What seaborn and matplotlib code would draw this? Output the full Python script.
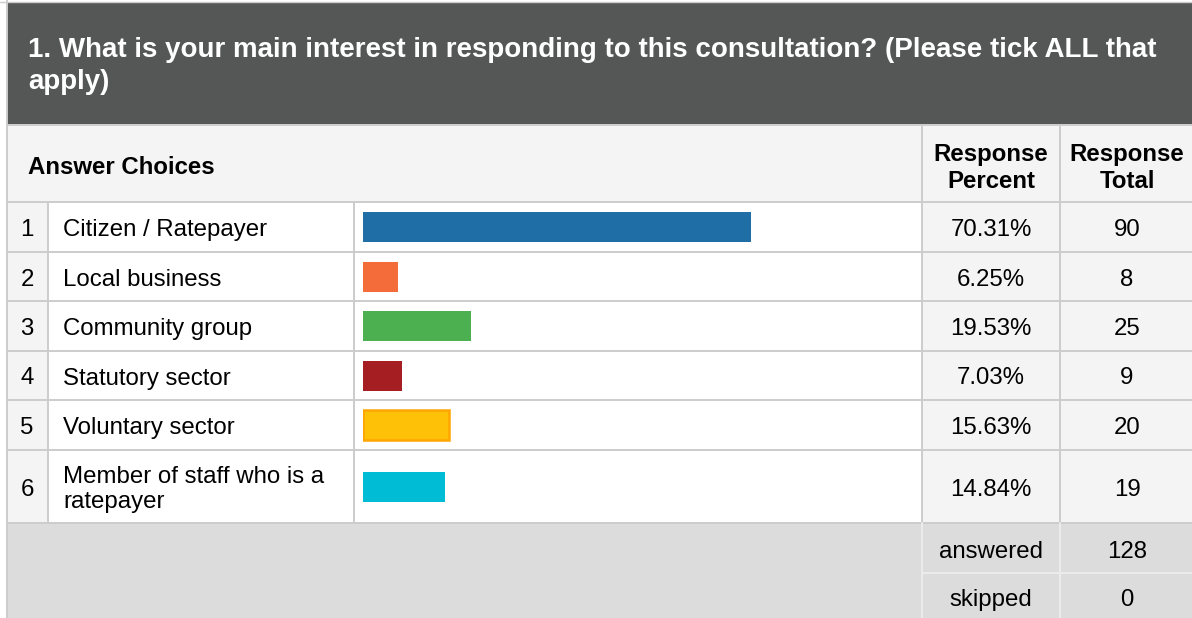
import matplotlib
matplotlib.use('Agg')
import matplotlib.pyplot as plt
import matplotlib.colors as mcolors
from matplotlib.patches import Rectangle
import pandas as pd
import seaborn as sns

# Survey data
question = ('1. What is your main interest in responding to this consultation? '
            '(Please tick ALL that\napply)')
choices = ['Citizen / Ratepayer', 'Local business', 'Community group',
           'Statutory sector', 'Voluntary sector',
           'Member of staff who is a\nratepayer']
percents = [70.31, 6.25, 19.53, 7.03, 15.63, 14.84]
totals = [90, 8, 25, 9, 20, 19]
bar_colors = ['#1f6ea5', '#f36c3a', '#4caf50', '#a51e22', '#ffc107', '#00bcd4']
answered = 128
skipped = 0

sns.set_style('white')
plt.rcParams['font.family'] = ['Liberation Sans', 'DejaVu Sans']
plt.rcParams['text.color'] = 'black'

# layout in pixels
W, H = 1192, 618
left = 7
col_x = [left, 48, 354, 922, 1060, W + 2]
row_y = [202, 252, 301, 351, 400, 450, 523]
row_c = [(a + b) / 2 for a, b in zip(row_y[:-1], row_y[1:])]
grid = '#cccccc'
light = '#f4f4f4'
fs = 17.3
dy = 3  # nudge text down to visual centre

fig = plt.figure(figsize=(W / 100, H / 100), dpi=100)
ax = fig.add_axes([0, 0, 1, 1])
ax.set_xlim(0, W)
ax.set_ylim(H, 0)
ax.axis('off')

# backgrounds
ax.add_patch(Rectangle((left, 3), W, 121, color='#555756', lw=0))
ax.add_patch(Rectangle((left, 124), W, 78, color=light, lw=0))
for i, c in enumerate([light, 'white', 'white', light, light]):
    ax.add_patch(Rectangle((col_x[i], row_y[0]), col_x[i + 1] - col_x[i],
                           row_y[-1] - row_y[0], color=c, lw=0))
ax.add_patch(Rectangle((left, row_y[-1]), W, H - row_y[-1], color='#dcdcdc', lw=0))

# grid lines
ax.plot([0, W], [2, 2], color=grid, lw=1)
ax.plot([left, left], [0, H], color=grid, lw=1.4)
ax.plot([left, W], [125, 125], color=grid, lw=1.4)
for y in row_y:
    ax.plot([left, W], [y, y], color=grid, lw=1.4)
for x in col_x[1:3]:
    ax.plot([x, x], [row_y[0], row_y[-1]], color=grid, lw=1.4)
for x in col_x[3:5]:
    ax.plot([x, x], [125, row_y[-1]], color=grid, lw=1.4)
    ax.plot([x, x], [row_y[-1], H], color='#ececec', lw=1.4)
ax.plot([col_x[3], W], [573, 573], color='#ececec', lw=1.4)

# title
ax.text(28, 66, question, color='white', fontsize=20, fontweight='bold',
        va='center', ha='left', linespacing=1.3)

# column headers
ax.text(28, 164 + dy, 'Answer Choices', fontsize=fs, fontweight='bold', va='center')
ax.text(991, 165 + dy, 'Response\nPercent', fontsize=fs, fontweight='bold',
        va='center', ha='center', linespacing=1.22)
ax.text(1127, 165 + dy, 'Response\nTotal', fontsize=fs, fontweight='bold',
        va='center', ha='center', linespacing=1.22)

# rows
for i, (name, p, t) in enumerate(zip(choices, percents, totals)):
    yc = row_c[i] + dy
    ax.text(27, yc, str(i + 1), fontsize=fs, va='center', ha='center')
    ax.text(63, yc, name, fontsize=fs, va='center', ha='left', linespacing=1.2)
    ax.text(991, yc, f'{p:.2f}%', fontsize=fs, va='center', ha='center')
    ax.text(1127, yc, str(t), fontsize=fs, va='center', ha='center')

ax.text(991, 549 + dy, 'answered', fontsize=fs, va='center', ha='center')
ax.text(1127, 549 + dy, str(answered), fontsize=fs, va='center', ha='center')
ax.text(991, 597 + dy, 'skipped', fontsize=fs, va='center', ha='center')
ax.text(1127, 597 + dy, str(skipped), fontsize=fs, va='center', ha='center')

# bars on their own axes: x in percent, y in pixel rows
bax = fig.add_axes([363 / W, 0, 552 / W, 1])
df = pd.DataFrame({'choice': choices, 'percent': percents, 'ypos': row_c})
sns.barplot(data=df, x='percent', y='ypos', hue='choice', palette=bar_colors,
            orient='h', native_scale=True, width=30 / 49.5, legend=False,
            errorbar=None, saturation=1, linewidth=0, ax=bax)
for patch in bax.patches:
    if mcolors.to_hex(patch.get_facecolor()) == '#ffc107':
        patch.set_edgecolor('#ffa500')
        patch.set_linewidth(1.8)
bax.set_xlim(0, 100)
bax.set_ylim(H, 0)
bax.axis('off')
bax.patch.set_visible(False)

fig.savefig('out.png', dpi=100)
